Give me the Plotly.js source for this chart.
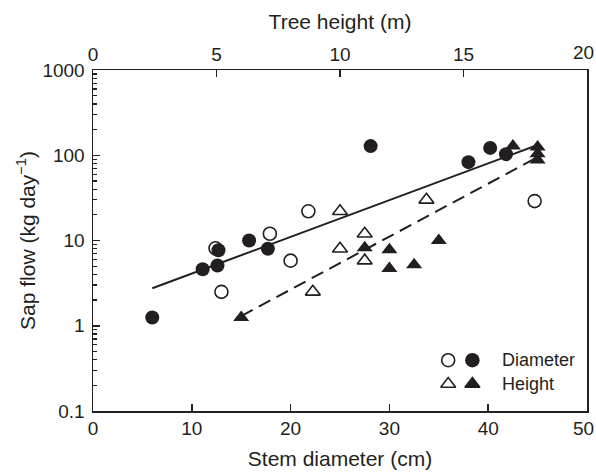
<!DOCTYPE html>
<html><head><meta charset="utf-8">
<script src="https://cdn.plot.ly/plotly-3.0.1.min.js"></script>
<style>html,body{margin:0;padding:0;background:#fff}#c{width:596px;height:475px}</style>
</head><body><div id="c"></div>
<script>
// Diameter series (stem diameter, cm; sap flow, kg/day)
const diamOpenX = [12.4, 13.0, 17.9, 20.0, 21.8, 44.7];
const diamOpenY = [8.1, 2.5, 12.0, 5.8, 22.0, 29.0];
const diamFillX = [6.0, 11.1, 12.6, 12.7, 15.8, 17.7, 28.1, 38.0, 40.2, 41.8];
const diamFillY = [1.25, 4.6, 5.1, 7.7, 10.0, 8.0, 128, 83, 122, 103];
// Height series (tree height, m; sap flow, kg/day)
const htOpenX = [8.9, 10.0, 10.0, 11.0, 11.0, 13.5];
const htOpenY = [2.5, 22.0, 8.0, 12.0, 5.8, 30.0];
const htFillX = [6.0, 11.0, 12.0, 12.0, 13.0, 14.0, 17.0, 18.0, 18.0, 18.0];
const htFillY = [1.25, 8.2, 7.8, 4.7, 5.2, 10.0, 128, 125, 104, 88];
// Fitted lines (endpoints)
const fitDiamX = [6, 45];
const fitDiamY = [2.75, 132];
const fitHtX = [6, 18];
const fitHtY = [1.3, 95];
// Ticks
const xTicks = [0, 10, 20, 30, 40, 50];
const xTickText = ['0', '10', '20', '30', '40', '50'];
const x2Ticks = [0, 5, 10, 15, 20];
const x2TickText = ['0', '5', '10', '15', '20'];
const yTicks = [0.1, 1, 10, 100, 1000];
const yTickText = ['0.1', '1', '10', '100', '1000'];
const legendLabels = ['Diameter', 'Height'];

const C = '#231f20';
const minorVals = [];
[0.1, 1, 10, 100].forEach(d => { for (let k = 2; k <= 9; k++) minorVals.push(d * k); });

const traces = [
  {x: fitDiamX, y: fitDiamY, mode: 'lines', line: {color: C, width: 2}, xaxis: 'x', yaxis: 'y'},
  {x: fitHtX, y: fitHtY, mode: 'lines', line: {color: C, width: 2, dash: '13px,7px'}, xaxis: 'x2', yaxis: 'y'},
  {x: diamOpenX, y: diamOpenY, mode: 'markers', marker: {symbol: 'circle-open', size: 13, color: C, line: {width: 1.6, color: C}}, xaxis: 'x', yaxis: 'y'},
  {x: diamFillX, y: diamFillY, mode: 'markers', marker: {symbol: 'circle', size: 14, color: C}, xaxis: 'x', yaxis: 'y'},
  {x: htOpenX, y: htOpenY, mode: 'markers', marker: {symbol: 'triangle-up-open', size: 13, color: C, line: {width: 1.6, color: C}}, xaxis: 'x2', yaxis: 'y'},
  {x: htFillX, y: htFillY, mode: 'markers', marker: {symbol: 'triangle-up', size: 14, color: C}, xaxis: 'x2', yaxis: 'y'},
  // legend key symbols on a hidden overlay axis
  {x: [0.719, 0.768], y: [0.149, 0.149], mode: 'markers', marker: {symbol: ['circle-open', 'circle'], size: 13, color: C, line: {width: 1.6, color: C}}, xaxis: 'x3', yaxis: 'y3'},
  {x: [0.719, 0.768], y: [0.079, 0.079], mode: 'markers', marker: {symbol: ['triangle-up-open', 'triangle-up'], size: 13, color: C, line: {width: 1.6, color: C}}, xaxis: 'x3', yaxis: 'y3'}
];

const TF = 'Liberation Sans, Arial, sans-serif';
const last = a => a[a.length - 1];
const layout = {
  width: 596, height: 475,
  margin: {l: 93, r: 9, t: 70, b: 64},
  paper_bgcolor: '#fff', plot_bgcolor: '#fff',
  showlegend: false,
  font: {family: TF, size: 18, color: C},
  xaxis: {
    range: [0, 50], tickvals: xTicks, ticktext: xTickText.slice(0, -1).concat(['']), ticks: 'inside', ticklen: 7, tickwidth: 1.5, tickcolor: C,
    showline: true, linecolor: C, linewidth: 1.5, showgrid: false, zeroline: false,
    tickfont: {size: 19, color: C},
    title: {text: 'Stem diameter (cm)', font: {size: 21, color: C}, standoff: 13}
  },
  xaxis2: {
    overlaying: 'x', side: 'top', range: [0, 20], tickvals: x2Ticks, ticktext: x2TickText.slice(0, -1).concat(['']), ticks: 'inside', ticklen: 7, tickwidth: 1.5, tickcolor: C,
    showline: true, linecolor: C, linewidth: 1.5, showgrid: false, zeroline: false,
    tickfont: {size: 19, color: C},
    title: {text: 'Tree height (m)', font: {size: 21, color: C}, standoff: 8}
  },
  yaxis: {
    type: 'log', range: [-1, 3], tickvals: yTicks, ticktext: yTickText, ticks: 'inside', ticklen: 7, tickwidth: 1.5, tickcolor: C,
    minor: {tickvals: minorVals, ticks: 'inside', ticklen: 4, tickwidth: 1.2, tickcolor: C, showgrid: false},
    showline: true, mirror: true, linecolor: C, linewidth: 1.5, showgrid: false, zeroline: false,
    tickfont: {size: 19, color: C}, ticklabelstandoff: 3,
    title: {text: 'Sap flow (kg day<sup>\u22121</sup>)', font: {size: 21, color: C}, standoff: 1}
  },
  xaxis3: {overlaying: 'x', range: [0, 1], visible: false, fixedrange: true},
  yaxis3: {overlaying: 'y', range: [0, 1], visible: false, fixedrange: true},
  annotations: [
    {text: legendLabels[0], xref: 'paper', yref: 'paper', x: 0.824, y: 0.149, xanchor: 'left', yanchor: 'middle', showarrow: false, font: {size: 18, color: C}},
    {text: legendLabels[1], xref: 'paper', yref: 'paper', x: 0.824, y: 0.079, xanchor: 'left', yanchor: 'middle', showarrow: false, font: {size: 18, color: C}},
    // end tick labels, right-aligned to the page edge as in the reference
    {text: last(xTickText), xref: 'paper', yref: 'paper', x: 1.018, y: -0.05, xanchor: 'right', yanchor: 'middle', showarrow: false, font: {size: 19, color: C}},
    {text: last(x2TickText), xref: 'paper', yref: 'paper', x: 1.018, y: 1.05, xanchor: 'right', yanchor: 'middle', showarrow: false, font: {size: 19, color: C}}
  ]
};
Plotly.newPlot('c', traces, layout, {displayModeBar: false, staticPlot: true});
</script></body></html>
